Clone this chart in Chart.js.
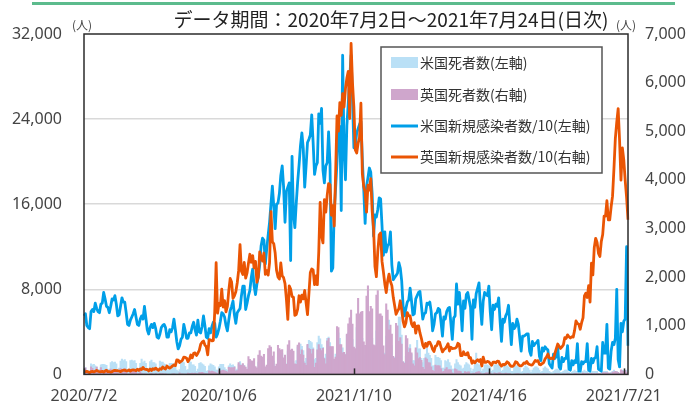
<!DOCTYPE html>
<html><head><meta charset="utf-8">
<script src="https://cdn.jsdelivr.net/npm/chart.js@4/dist/chart.umd.min.js"></script>
<style>html,body{margin:0;padding:0;background:#fff;}canvas{display:block;}</style>
</head><body>
<canvas id="c" width="696" height="406"></canvas>
<script>
// ---- data (daily, 2020/7/2 - 2021/7/24) ----
const tickLabels = ['2020/7/2','2020/10/6','2021/1/10','2021/4/16','2021/7/21'];
const leftTicks = [0, 8000, 16000, 24000, 32000];
const rightTicks = [0,1000,2000,3000,4000,5000,6000,7000];

// US deaths (left axis)
const usDeaths = [
700,650,270,250,370,1000,900,950,800,700,430,450,900,950,950,900,850,450,500,1100,1200,1100,1150,1000,450,600,1250,1450,1300,1400,
1200,450,500,1300,1350,1250,1300,1050,500,550,1050,1450,1100,1250,1050,550,450,1200,1350,1100,1100,1000,450,450,1250,1150,1150,1000,950,400,450,
1050,1050,1050,1000,700,400,300,450,1150,1200,1100,750,400,450,1200,1150,900,900,750,300,500,1050,1100,1000,900,750,300,350,800,1000,
900,850,700,400,400,700,950,950,950,650,450,350,800,1000,850,900,750,400,500,950,1200,900,950,850,450,500,1000,1050,1050,950,850,
450,550,1150,1600,1200,1250,1050,500,700,1450,1500,1200,1400,1250,650,800,1650,2000,2000,1950,1500,950,1000,2200,2300,1300,1400,1200,850,1300,
2600,2850,2850,2650,2250,1200,1500,2700,3200,3100,3000,2500,1400,1500,3000,3600,3350,2800,2550,1550,1900,3400,3500,3000,1200,1400,1400,1900,3700,3900,3400,
2300,2500,1400,1900,3700,3900,4100,3900,3300,1800,2000,4400,3900,4000,3800,3400,1800,1400,2700,4400,4000,3800,3400,1900,2100,4100,3900,3900,3700,2800,1900,
2000,3600,3900,5100,3600,2700,1400,1600,3200,3400,5400,5400,3700,1200,1100,1700,2500,2500,2800,1900,1300,1300,2300,3200,2400,2400,1500,1100,
1500,1900,2500,2000,1800,1500,800,800,1800,1600,1600,1500,1300,600,600,1300,1200,1400,1100,800,500,500,1000,1400,1100,900,800,500,600,900,1100,
1000,900,600,300,500,900,2000,1000,900,700,300,500,900,900,900,800,700,300,400,900,900,900,900,700,300,400,800,900,800,700,
600,300,300,700,800,800,700,600,200,300,600,800,700,600,400,200,400,600,700,700,600,400,200,300,600,700,600,500,300,200,150,
300,400,500,500,400,200,200,300,400,400,400,200,100,200,300,400,300,300,100,80,200,300,400,300,300,150,80,200,300,300,
300,300,100,80,80,200,300,300,300,100,80,200,300,400,300,300,100,80,300,400,350,350,400,200
];

// UK deaths (right axis)
const ukDeaths = [
89,137,67,22,16,155,126,85,48,148,21,11,138,85,66,40,110,26,11,110,79,67,76,40,25,8,119,83,38,120,
74,8,5,89,65,98,55,64,8,18,102,15,6,11,8,3,3,12,16,6,2,18,2,4,16,12,16,9,12,1,2,
3,3,10,12,6,2,3,32,8,14,6,9,5,27,20,21,27,21,27,18,11,37,37,40,34,17,18,13,71,59,
66,59,49,33,19,76,70,77,87,81,65,50,143,137,138,136,150,67,80,241,191,189,224,174,151,102,367,310,280,274,326,
162,136,397,492,378,355,413,156,194,532,595,563,376,462,168,213,598,529,501,511,341,398,206,608,696,498,521,479,215,205,
603,648,414,504,397,231,189,616,533,516,424,519,144,232,506,612,532,489,534,326,215,691,744,570,574,570,316,357,981,964,613,
613,445,454,407,830,1041,1162,1325,1035,563,529,1243,1564,1248,1280,1295,671,599,1610,1820,1290,1401,1348,610,592,1631,1725,1239,1245,1200,587,
406,1449,1322,915,1014,828,373,333,1052,1001,678,758,621,258,230,799,738,454,533,445,215,178,548,442,323,345,290,144,
104,343,315,242,236,158,82,65,190,175,181,175,121,52,64,110,141,95,101,96,33,17,112,98,70,70,58,19,23,56,43,
51,52,10,10,26,20,45,53,60,34,7,13,23,30,34,32,32,10,4,33,22,18,32,32,17,11,17,29,15,17,
15,1,1,6,13,11,18,6,2,4,11,9,11,17,7,4,1,7,9,9,10,6,7,5,15,7,10,12,6,0,0,
1,12,12,10,13,4,3,13,7,9,17,12,8,3,9,19,19,11,14,6,3,27,16,18,18,23,3,22,14,18,
14,18,18,15,9,37,33,35,34,34,26,6,50,49,63,51,41,19,96,73,63,84,49,28
];

// US new cases / 10 (left axis)
const usCases10 = [
5500,5700,4600,4400,4300,5900,6100,5900,6700,6200,5900,5800,6600,6700,7700,7100,6400,6300,5800,6400,7100,7000,7400,6600,5500,5600,6400,7200,6800,6800,
5800,4700,4600,5100,5400,5700,6100,5400,4700,4600,5200,5500,5200,6400,5300,4200,3800,4400,4700,4400,4800,4300,3500,3400,3800,4400,4600,4700,4400,3500,3500,
4200,4000,4400,5200,4200,3100,2400,2700,3300,3500,4700,4100,3400,3400,3900,3900,4500,4900,4200,3700,5100,4000,3900,4500,5500,4600,3500,3400,4300,3900,
4500,4900,4800,3500,3800,4300,5000,5800,5700,5400,4600,4100,5100,6000,6400,6900,5600,4800,5800,6000,6200,7400,8300,8300,6100,6700,7400,7900,9100,9900,8300,
7500,8500,9200,10300,12100,12800,12600,10400,11800,13100,14300,16000,17700,15800,13700,16000,16100,17000,18700,19600,17600,14300,17200,17600,18000,10700,20500,15100,13800,16100,
18100,19700,21500,22700,21200,17600,19600,21800,22100,22500,24400,21800,18800,19600,19900,24500,23600,25000,19200,18000,19600,19900,22800,19800,9700,10000,15300,17500,20000,23200,23300,
15400,30000,21000,18300,23400,25500,27800,30000,26000,21300,21500,22700,23100,23500,23800,20200,17400,14200,17700,18500,19400,19000,17000,13000,15000,14800,15500,16600,16500,14000,11200,
13400,11500,12100,12300,13400,10300,8900,9100,9300,9500,10500,10000,8800,6400,5500,6200,6800,7000,8100,6900,5600,5700,7100,7400,7700,7800,6500,5200,
5700,5800,6700,6600,6800,5900,4100,4700,5700,5800,6200,6100,4900,3600,5400,5200,5900,6200,6300,4800,3300,5300,5500,8500,6600,7700,6200,4100,6900,6200,7500,
7700,7000,6300,3300,7000,6300,7600,8100,8600,6400,4700,6900,7700,7500,7400,8300,5900,4200,6500,6100,6600,6400,7200,5000,3100,5200,4900,5500,5800,6500,
4600,2800,4800,4300,4500,5200,4700,3400,2200,3600,3600,3700,3800,3800,2200,1800,3100,2700,2900,3000,3200,1700,1300,2500,2200,2600,2400,2300,1000,800,600,
1900,1500,1700,2600,700,500,1600,1200,1500,1500,2700,500,400,1300,900,1300,1100,2900,300,300,1200,1000,1200,1200,2900,400,300,1500,1100,1500,
1600,2600,500,400,300,3000,2000,2000,4700,600,500,2200,3000,2800,3400,8000,1400,700,4800,4000,5000,5200,12000,2700
];

// UK new cases / 10 (right axis)
const ukCases10 = [
58,54,62,52,35,58,63,51,64,82,65,53,54,64,46,69,83,58,56,45,56,77,80,77,75,69,58,76,85,88,
74,74,94,67,89,95,87,76,106,82,115,101,144,106,101,104,71,109,81,118,103,129,104,85,118,105,152,128,111,172,141,
130,151,174,194,181,299,295,246,266,292,354,350,333,262,311,399,340,432,442,390,437,493,618,663,687,604,569,404,714,711,
691,697,1287,2296,1259,1454,1416,1754,1386,1517,1287,1397,1723,1972,1898,1565,1617,1698,1880,2133,2669,2124,2053,2301,1979,2089,2289,2470,2307,2441,2192,
2325,1895,2002,2518,2414,2329,2496,2057,2135,2041,2295,3347,2730,2686,2496,2136,2005,1961,2292,2025,1988,1866,1545,1130,1821,1756,1602,1587,1216,1233,
1343,1617,1488,1630,1554,1727,1472,1228,1658,2096,2167,2150,1845,2026,1845,2516,3538,2851,2705,3593,3336,3680,3924,3904,3273,3469,3050,4139,5314,5002,5589,
5329,5773,5499,5878,6092,6232,5262,6805,5994,5494,4617,4553,4753,4868,5576,4135,3860,3754,3336,3891,3789,4026,3355,3000,2220,2009,2531,2868,2908,2328,2109,
1861,1684,1920,2063,1911,1826,1585,1410,1236,1301,1349,1514,1331,1097,977,1063,1272,1206,1203,1041,983,1064,849,994,999,852,743,604,
546,639,577,657,661,604,518,471,577,593,675,661,553,462,509,529,576,630,480,559,531,534,538,561,640,619,386,386,465,405,404,
448,340,342,230,276,238,276,303,269,305,173,357,247,249,267,260,221,188,252,252,240,273,268,206,171,206,195,217,259,238,
191,165,167,195,261,249,205,177,177,198,236,228,266,219,203,193,198,241,287,270,283,205,198,224,244,318,354,418,340,324,338,
317,433,527,624,577,534,568,605,754,739,813,774,749,774,767,906,1101,1048,1032,928,1063,1163,1614,1670,1581,1827,1488,2287,2048,2607,
2799,2713,2489,2425,2733,2877,3255,3255,3571,3177,3177,3447,3666,4230,4855,5187,5467,4816,3995,4656,4410,3991,3639,3180
];

const seriesNames = ['米国死者数(左軸)','英国死者数(右軸)','米国新規感染者数/10(左軸)','英国新規感染者数/10(右軸)'];
const titleText = 'データ期間：2020年7月2日～2021年7月24日(日次)';
const unitText = '(人)';

// category labels: one per day from 2020/7/2
const categories = [];
(function(){ const d = new Date(2020, 6, 2); for (let i = 0; i < usCases10.length; i++) { categories.push(d.getFullYear() + '/' + (d.getMonth() + 1) + '/' + d.getDate()); d.setDate(d.getDate() + 1); } })();

const FONT = '"Noto Sans CJK JP", "Noto Sans", sans-serif';
const NUMFONT = '"Noto Sans", "Noto Sans CJK JP", sans-serif';
const C_USBAR = '#bae0f6', C_UKBAR = '#cfa6cc', C_US = '#009fe8', C_UK = '#ea5504';

const decor = {
  id: 'decor',
  afterDatasetsDraw(chart) {
    const {ctx, chartArea: a} = chart;
    ctx.save();
    ctx.strokeStyle = '#2b2b2b';
    ctx.lineWidth = 1.5;
    ctx.strokeRect(a.left, a.top, a.right - a.left, a.bottom - a.top);
    const xs = chart.scales.x;
    tickLabels.forEach(l => {
      const px = Math.round(xs.getPixelForValue(categories.indexOf(l))) + 0.5;
      ctx.beginPath(); ctx.moveTo(px, a.bottom); ctx.lineTo(px, a.bottom - 6); ctx.stroke();
    });
    ctx.restore();
  },
  afterDraw(chart) {
    const {ctx} = chart;
    ctx.save();
    // green rule
    ctx.fillStyle = '#5cbb8d';
    ctx.fillRect(32, 2, 643, 3);
    // title
    ctx.fillStyle = '#222';
    ctx.font = '19px ' + FONT;
    ctx.textAlign = 'center'; ctx.textBaseline = 'middle';
    ctx.fillText(titleText, 391, 20);
    // units
    ctx.font = '12px ' + FONT;
    ctx.fillStyle = '#444';
    ctx.fillText(unitText, 82, 25);
    ctx.fillText(unitText, 626, 25);
    // legend
    const bx = 381, by = 47, bw = 221, bh = 126;
    ctx.fillStyle = '#fff';
    ctx.fillRect(bx, by, bw, bh);
    ctx.strokeStyle = '#555'; ctx.lineWidth = 1.5;
    ctx.strokeRect(bx, by, bw, bh);
    const ys = [62.5, 94.5, 126, 157];
    ctx.font = '14px ' + FONT;
    ctx.textAlign = 'left'; ctx.textBaseline = 'middle';
    ctx.fillStyle = C_USBAR; ctx.fillRect(391, ys[0] - 5.5, 27, 11);
    ctx.fillStyle = C_UKBAR; ctx.fillRect(391, ys[1] - 5.5, 27, 11);
    ctx.lineWidth = 3;
    ctx.strokeStyle = C_US; ctx.beginPath(); ctx.moveTo(391, ys[2]); ctx.lineTo(418, ys[2]); ctx.stroke();
    ctx.strokeStyle = C_UK; ctx.beginPath(); ctx.moveTo(391, ys[3]); ctx.lineTo(418, ys[3]); ctx.stroke();
    ctx.fillStyle = '#333';
    seriesNames.forEach((n, i) => ctx.fillText(n, 420, ys[i]));
    ctx.restore();
  }
};

new Chart(document.getElementById('c'), {
  type: 'bar',
  data: {
    labels: categories,
    datasets: [
      {type: 'line', label: seriesNames[3], data: ukCases10, yAxisID: 'y1', borderColor: C_UK, borderWidth: 2.8, pointRadius: 0, tension: 0, order: 0, borderJoinStyle: 'round'},
      {type: 'line', label: seriesNames[2], data: usCases10, yAxisID: 'y', borderColor: C_US, borderWidth: 2.8, pointRadius: 0, tension: 0, order: 1, borderJoinStyle: 'round'},
      {type: 'bar', label: seriesNames[1], data: ukDeaths, yAxisID: 'y1', backgroundColor: C_UKBAR, barPercentage: 1, categoryPercentage: 1, grouped: false, order: 2},
      {type: 'bar', label: seriesNames[0], data: usDeaths, yAxisID: 'y', backgroundColor: C_USBAR, barPercentage: 1, categoryPercentage: 1, grouped: false, order: 3}
    ]
  },
  options: {
    responsive: false,
    animation: false,
    devicePixelRatio: 1,
    layout: {padding: {top: 34, left: 0, right: 0, bottom: 0}},
    plugins: {legend: {display: false}, title: {display: false}, tooltip: {enabled: false}},
    scales: {
      x: {
        type: 'category', offset: false,
        grid: {display: false, drawTicks: false},
        border: {display: false},
        afterBuildTicks: s => { s.ticks = tickLabels.map(l => ({value: categories.indexOf(l)})); },
        afterFit: s => { s.height = 30; },
        ticks: {autoSkip: false, maxRotation: 0, minRotation: 0, padding: 12, color: '#444', font: {family: NUMFONT, size: 16}}
      },
      y: {
        position: 'left', min: 0, max: 32000,
        afterBuildTicks: s => { s.ticks = leftTicks.map(v => ({value: v})); },
        afterFit: s => { s.width = 84; },
        grid: {drawTicks: false, lineWidth: 1.5, color: c => (c.tick && c.tick.value > 0 && c.tick.value < 32000) ? '#d9d9d9' : 'rgba(0,0,0,0)'},
        border: {display: false},
        ticks: {padding: 22, color: '#444', font: {family: NUMFONT, size: 16}, callback: v => v.toLocaleString('en-US')}
      },
      y1: {
        position: 'right', min: 0, max: 7000,
        afterBuildTicks: s => { s.ticks = rightTicks.map(v => ({value: v})); },
        afterFit: s => { s.width = 68; },
        grid: {display: false, drawTicks: false},
        border: {display: false},
        ticks: {padding: 17, color: '#444', font: {family: NUMFONT, size: 16}, callback: v => v.toLocaleString('en-US')}
      }
    }
  },
  plugins: [decor]
});
</script>
</body></html>
